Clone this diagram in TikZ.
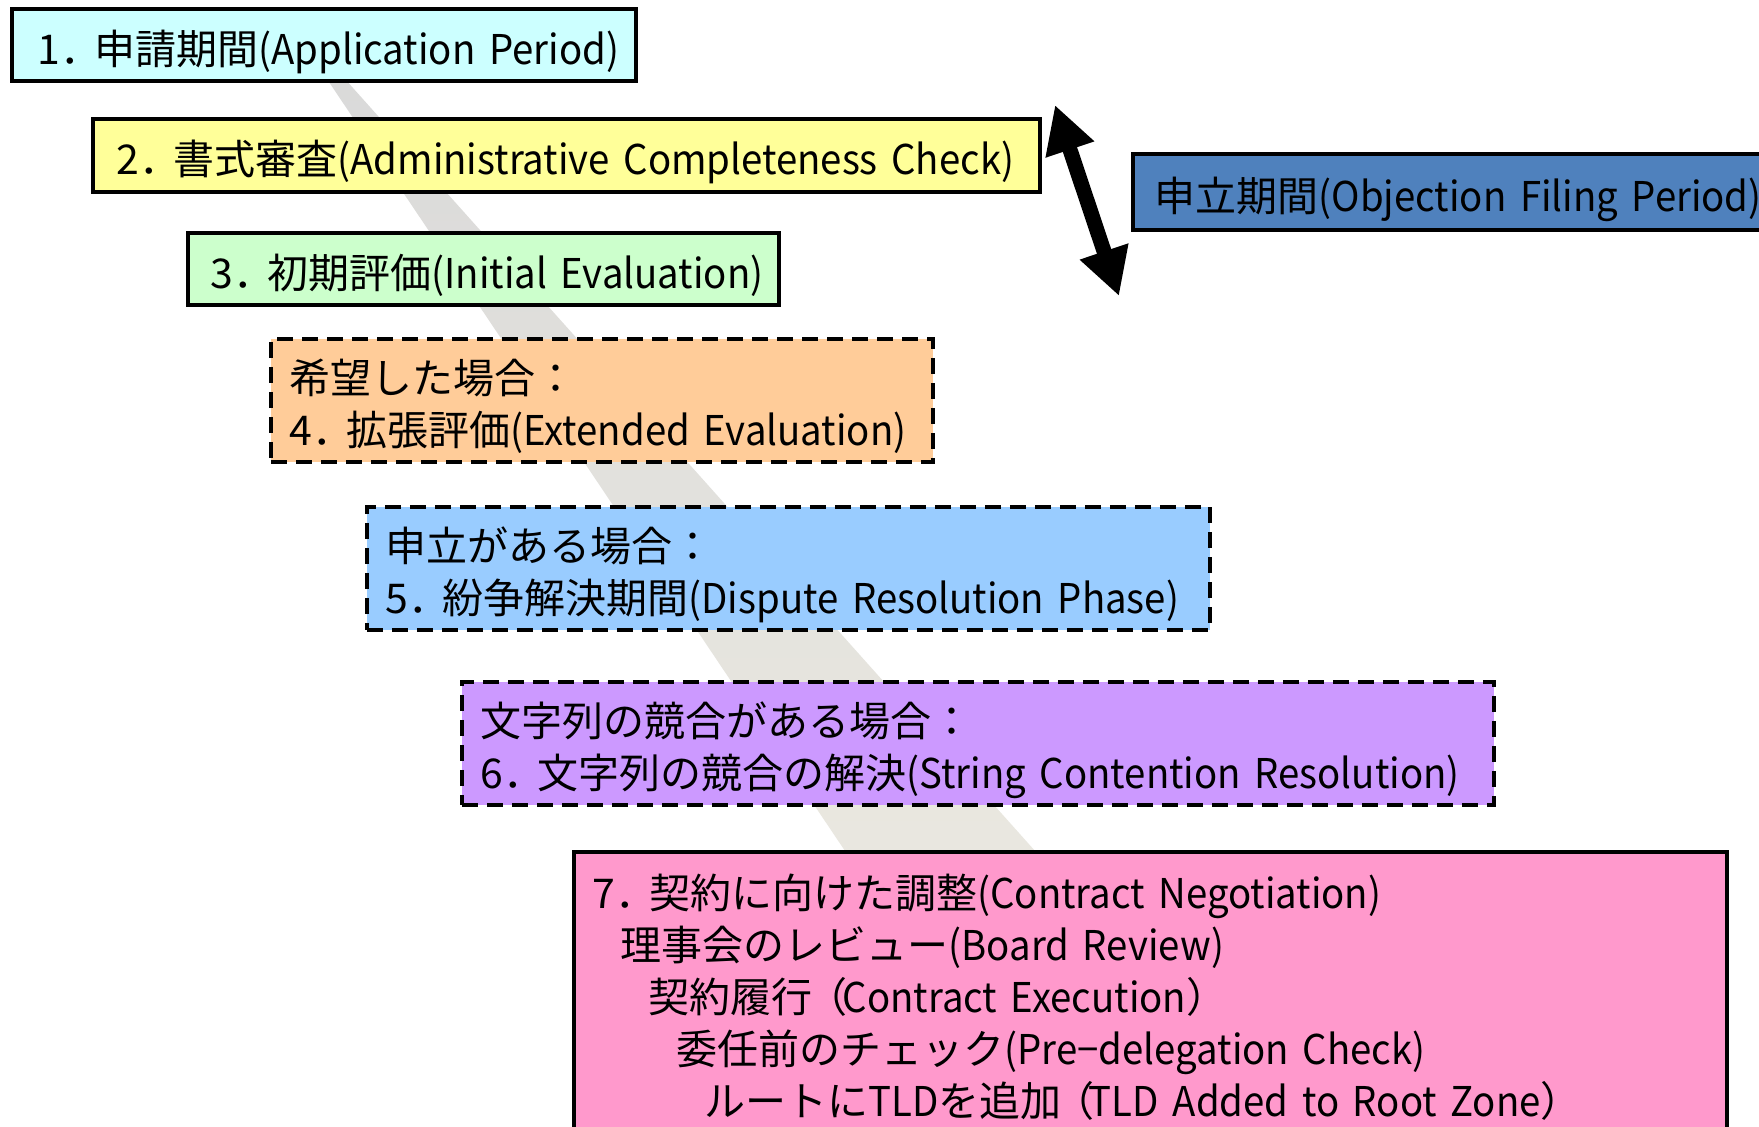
\documentclass[tikz,border=0pt]{standalone}
\usepackage{fontspec}
\newfontfamily\jp{Noto Sans CJK JP}
\newfontfamily\jplat{Noto Sans CJK JP}[FakeStretch=0.935]
\usetikzlibrary{arrows.meta}
\definecolor{cone}{HTML}{CCFFFF}
\definecolor{ctwo}{HTML}{FFFF99}
\definecolor{cthree}{HTML}{CCFFCC}
\definecolor{cfour}{HTML}{FFCC99}
\definecolor{cfive}{HTML}{99CCFF}
\definecolor{csix}{HTML}{CC99FF}
\definecolor{cseven}{HTML}{FF99CC}
\definecolor{cobj}{HTML}{4F81BD}
\definecolor{bandtop}{HTML}{D9D9D9}
\definecolor{bandbot}{HTML}{EAE8E0}
\newcommand\tstrut{\rule{0pt}{50pt}}
\newcommand\bstrut{\rule[-11pt]{0pt}{11pt}}
\newcommand\lat[1]{{\jplat #1}}
\newcommand\dt{．\kern-7pt}
\begin{document}
\begin{tikzpicture}[x=1pt,y=-1pt,
  box/.style={draw=black, line width=3.5pt, anchor=north west, inner ysep=0pt,
    align=left, font=\jp\fontsize{41pt}{52pt}\selectfont},
  solidbox/.style={box},
  dashbox/.style={box, dash pattern=on 16pt off 9pt},
  bigarrow/.style={line width=15pt,
    {Triangle[length=47pt,width=48pt]}-{Triangle[length=47pt,width=48pt]}}
]
\clip (0,0) rectangle (1759,1127);
\fill[white] (0,0) rectangle (1759,1127);
% grey band
\shade[top color=bandtop, bottom color=bandbot]
  (300.8,40) -- (310.1,40) -- (1061,880) -- (864.5,880) -- cycle;
% boxes
\node[solidbox, fill=cone, inner xsep=26pt, text width=572pt, minimum height=72pt] (b1) at (10,7)
  {\mbox{\tstrut 1\dt 申請期間\lat{(Application Period)}\bstrut}};
\node[solidbox, fill=ctwo, inner xsep=24pt, text width=899pt, minimum height=73pt] (b2) at (91,117)
  {\mbox{\tstrut 2\dt 書式審査\lat{(Administrative Completeness Check)}\bstrut}};
\node[solidbox, fill=cthree, inner xsep=23pt, text width=545pt, minimum height=72pt] (b3) at (186,231)
  {\mbox{\tstrut 3\dt 初期評価\lat{(Initial Evaluation)}\bstrut}};
\node[dashbox, fill=cfour, inner xsep=19pt, text width=624pt, minimum height=123pt] (b4) at (269,337)
  {\mbox{\tstrut 希望した場合：}\\\mbox{4\dt 拡張評価\lat{(Extended Evaluation)}\bstrut}};
\node[dashbox, fill=cfive, inner xsep=19pt, text width=805pt, minimum height=123pt] (b5) at (365,505)
  {\mbox{\tstrut 申立がある場合：}\\\mbox{5\dt 紛争解決期間\lat{(Dispute Resolution Phase)}\bstrut}};
\node[dashbox, fill=csix, inner xsep=19pt, text width=994pt, minimum height=123pt] (b6) at (460,680)
  {\mbox{\tstrut 文字列の競合がある場合：}\\\mbox{6\dt 文字列の競合の解決\lat{(String Contention Resolution)}\bstrut}};
\node[solidbox, fill=cseven, inner xsep=19pt, text width=1115pt] (b7) at (572,850)
  {\mbox{\rule{0pt}{57pt}7\dt 契約に向けた調整\lat{(Contract Negotiation)}}\\
   \mbox{\hspace*{28pt}理事会のレビュー\lat{(Board Review)}}\\
   \mbox{\hspace*{56pt}契約履行\kern-6pt（\kern-5pt\lat{Contract Execution}）}\\
   \mbox{\hspace*{84pt}委任前のチェック\lat{(Pre−delegation Check)}}\\
   \mbox{\hspace*{112pt}ルートに\lat{TLD}を追加\kern-8pt（\kern-6pt\lat{TLD Added to Root Zone}）\rule[-40pt]{0pt}{40pt}}};
\node[solidbox, fill=cobj, inner xsep=22pt, text width=616pt, minimum height=76pt] (obj) at (1131,152)
  {\mbox{\tstrut 申立期間\lat{(Objection Filing Period)}\bstrut}};
% double arrow
\coordinate (ua) at (1055,105);
\coordinate (la) at (1119,296);
\draw[bigarrow] (ua) -- (la);
\end{tikzpicture}
\end{document}
